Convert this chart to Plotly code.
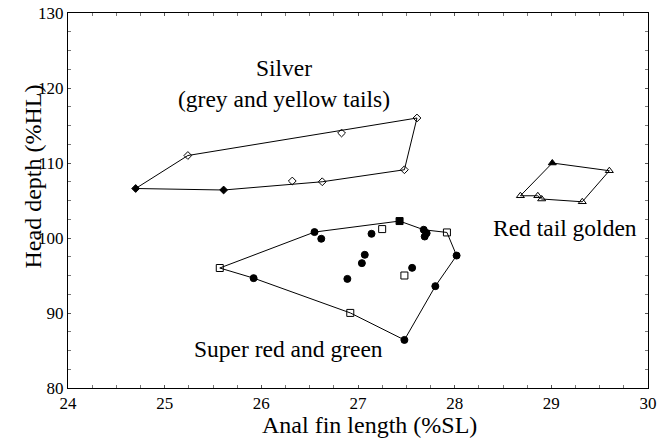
import plotly.graph_objects as go

# ---------------- data ----------------
# Silver (grey and yellow tails)
silver_x = [24.70, 25.24, 25.61, 26.32, 26.63, 26.83, 27.48, 27.61]
silver_y = [106.6, 111.0, 106.4, 107.6, 107.5, 114.0, 109.1, 116.0]
silver_filled = [True, False, True, False, False, False, False, False]
silver_hull = [0, 1, 7, 6, 4, 2, 0]

# Red tail golden
gold_x = [29.01, 29.60, 28.68, 28.86, 28.90, 29.32]
gold_y = [110.0, 108.97, 105.63, 105.63, 105.2, 104.83]
gold_filled = [True, False, False, False, False, False]
gold_hull = [0, 1, 5, 4, 3, 2, 0]

# Super red and green
sr_x = [25.57, 25.92, 26.55, 26.62, 27.14, 27.25, 27.43, 27.68, 27.71, 27.69,
        27.92, 28.02, 27.07, 27.04, 26.89, 27.56, 27.48, 27.80, 26.92, 27.48]
sr_y = [96.0, 94.65, 100.79, 99.9, 100.56, 101.19, 102.26, 101.1, 100.65, 100.2,
        100.74, 97.66, 97.76, 96.65, 94.55, 96.02, 95.0, 93.58, 90.01, 86.41]
# 'c' filled circle, 's' open square, 'S' filled square
sr_kind = ['s', 'c', 'c', 'c', 'c', 's', 'S', 'c', 'c', 'c',
           's', 'c', 'c', 'c', 'c', 'c', 's', 'c', 's', 'c']
sr_hull = [0, 2, 6, 7, 10, 11, 17, 19, 18, 1, 0]

labels = [
    ("Silver<br>(grey and yellow tails)", 26.23, 120.6),
    ("Red tail golden", 29.14, 101.4),
    ("Super red and green", 26.28, 85.2),
]

x_range = [24, 30]
y_range = [80, 130]
x_ticks = [24, 25, 26, 27, 28, 29, 30]
y_ticks = [80, 90, 100, 110, 120, 130]
x_title = "Anal fin length (%SL)"
y_title = "Head depth (%HL)"

FONT = "Liberation Serif"

fig = go.Figure()


def hull_trace(xs, ys, order):
    return go.Scatter(x=[xs[i] for i in order], y=[ys[i] for i in order],
                      mode="lines", line=dict(color="black", width=1),
                      hoverinfo="skip", showlegend=False)


def pts(xs, ys, mask, symbol, size):
    return go.Scatter(x=[x for x, m in zip(xs, mask) if m],
                      y=[y for y, m in zip(ys, mask) if m],
                      mode="markers",
                      marker=dict(symbol=symbol, size=size, color="black",
                                  line=dict(color="black", width=1)),
                      showlegend=False)


fig.add_trace(hull_trace(silver_x, silver_y, silver_hull))
fig.add_trace(hull_trace(gold_x, gold_y, gold_hull))
fig.add_trace(hull_trace(sr_x, sr_y, sr_hull))

fig.add_trace(pts(silver_x, silver_y, silver_filled, "diamond", 6))
fig.add_trace(pts(silver_x, silver_y, [not f for f in silver_filled], "diamond-open", 6))
fig.add_trace(pts(gold_x, gold_y, gold_filled, "triangle-up", 7))
fig.add_trace(pts(gold_x, gold_y, [not f for f in gold_filled], "triangle-up-open", 7))
fig.add_trace(pts(sr_x, sr_y, [k == 'c' for k in sr_kind], "circle", 7))
fig.add_trace(pts(sr_x, sr_y, [k == 's' for k in sr_kind], "square-open", 7))
fig.add_trace(pts(sr_x, sr_y, [k == 'S' for k in sr_kind], "square", 7))

for text, x, y in labels:
    fig.add_annotation(x=x, y=y, text=text, showarrow=False,
                       xanchor="center", yanchor="middle",
                       font=dict(family=FONT, size=23.5, color="black"))

# axis titles as paper-anchored annotations
fig.add_annotation(xref="paper", yref="paper", x=0.519, y=-0.099, text=x_title,
                   xanchor="center", yanchor="middle",
                   showarrow=False, font=dict(family=FONT, size=24, color="black"))
fig.add_annotation(xref="paper", yref="paper", x=-0.061, y=0.563, text=y_title,
                   xanchor="center", yanchor="middle",
                   textangle=-90, showarrow=False,
                   font=dict(family=FONT, size=24, color="black"))

axis_common = dict(showgrid=False, zeroline=False, showline=True, linecolor="black",
                   linewidth=1, mirror="ticks", ticks="inside", ticklen=3,
                   automargin=False,
                   tickcolor="#555", tickfont=dict(family=FONT, size=17, color="black"))

fig.update_xaxes(range=x_range, tickvals=x_ticks, ticktext=[str(t) for t in x_ticks],
                 minor=dict(ticks="inside", ticklen=3, dtick=0.25, tickcolor="#777"),
                 **axis_common)
fig.update_yaxes(range=y_range, tickvals=y_ticks, ticktext=[str(t) for t in y_ticks],
                 minor=dict(ticks="inside", ticklen=3, dtick=2.5, tickcolor="#777"),
                 **axis_common)

fig.update_layout(width=667, height=439, margin=dict(l=68, r=19, t=13, b=51),
                  font=dict(family=FONT, color="black"),
                  plot_bgcolor="white", paper_bgcolor="white")

fig.write_html("out.html", config={"displayModeBar": False},
               post_script="document.body.style.margin='0';document.body.style.padding='0';")
